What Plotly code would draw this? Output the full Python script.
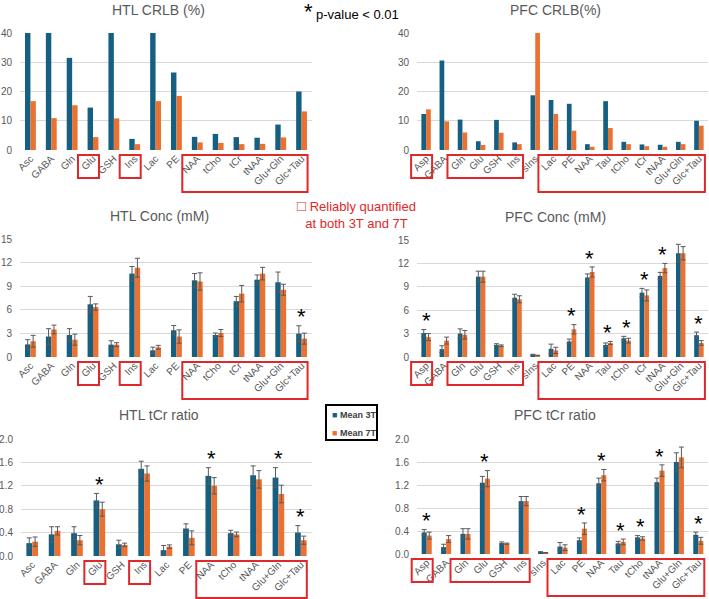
import plotly.graph_objects as go

W, H = 709, 599
BLUE = "#156082"
ORANGE = "#E97132"
GRAY = "#595959"
RED = "#E0282A"
FONT = "Liberation Sans"

# ---------------- data ----------------
htl_cats = ["Asc", "GABA", "Gln", "Glu", "GSH", "Ins", "Lac", "PE", "NAA", "tCho", "tCr", "tNAA", "Glu+Gln", "Glc+Tau"]
htl_ratio_cats = ["Asc", "GABA", "Gln", "Glu", "GSH", "Ins", "Lac", "PE", "NAA", "tCho", "tNAA", "Glu+Gln", "Glc+Tau"]
pfc_cats = ["Asp", "GABA", "Gln", "Glu", "GSH", "Ins", "sIns", "Lac", "PE", "NAA", "Tau", "tCho", "tCr", "tNAA", "Glu+Gln", "Glc+Tau"]
pfc_ratio_cats = ["Asp", "GABA", "Gln", "Glu", "GSH", "Ins", "sIns", "Lac", "PE", "NAA", "Tau", "tCho", "tNAA", "Glu+Gln", "Glc+Tau"]

htl_crlb_3t = [40, 40, 31.5, 14.5, 40, 3.8, 40, 26.5, 4.5, 5.5, 4.4, 4.2, 8.7, 20.0]
htl_crlb_7t = [16.7, 10.9, 15.3, 4.4, 10.8, 2.0, 16.7, 18.5, 2.6, 2.4, 2.0, 2.1, 4.3, 13.2]

pfc_crlb_3t = [12.3, 30.6, 10.4, 3.0, 10.3, 2.6, 18.7, 17.1, 15.8, 2.0, 16.7, 2.8, 1.9, 1.8, 2.8, 10.0]
pfc_crlb_7t = [13.9, 9.8, 6.0, 1.7, 5.9, 2.0, 40, 12.3, 6.6, 1.1, 7.5, 2.0, 1.3, 1.1, 2.0, 8.3]

htl_conc_3t = [1.6, 2.6, 2.8, 6.7, 1.57, 10.6, 0.85, 3.4, 9.75, 2.8, 7.1, 9.83, 9.5, 2.97]
htl_conc_3t_sd = [0.6, 1.0, 0.8, 1.0, 0.5, 0.9, 0.4, 0.6, 0.85, 0.25, 0.6, 0.6, 1.3, 1.0]
htl_conc_7t = [2.0, 3.5, 2.2, 6.35, 1.57, 11.35, 1.23, 2.6, 9.6, 3.05, 8.05, 10.6, 8.55, 2.33]
htl_conc_7t_sd = [0.75, 0.55, 0.7, 0.4, 0.25, 1.2, 0.25, 0.85, 1.1, 0.45, 1.05, 0.8, 0.7, 0.7]
htl_conc_sig = ["Glc+Tau"]

pfc_conc_3t = [3.07, 1.0, 3.0, 10.3, 1.55, 7.6, 0.3, 1.05, 2.0, 10.2, 1.55, 2.4, 8.25, 10.4, 13.3, 2.8]
pfc_conc_3t_sd = [0.45, 0.45, 0.6, 0.7, 0.15, 0.45, 0.05, 0.6, 0.3, 0.45, 0.25, 0.25, 0.55, 0.45, 1.15, 0.4]
pfc_conc_7t = [2.55, 2.1, 2.85, 10.3, 1.45, 7.4, 0.2, 0.85, 3.55, 10.9, 1.8, 2.1, 7.9, 11.4, 13.3, 1.8]
pfc_conc_7t_sd = [0.45, 0.45, 0.55, 0.7, 0.1, 0.45, 0.03, 0.4, 0.6, 0.65, 0.2, 0.3, 0.7, 0.6, 0.85, 0.3]
pfc_conc_sig = ["Asp", "PE", "NAA", "Tau", "tCho", "tCr", "tNAA", "Glc+Tau"]

htl_ratio_3t = [0.22, 0.37, 0.39, 0.95, 0.20, 1.49, 0.10, 0.47, 1.37, 0.39, 1.38, 1.34, 0.40]
htl_ratio_3t_sd = [0.09, 0.13, 0.11, 0.12, 0.07, 0.13, 0.08, 0.08, 0.14, 0.05, 0.16, 0.17, 0.12]
htl_ratio_7t = [0.245, 0.43, 0.27, 0.80, 0.19, 1.41, 0.16, 0.31, 1.20, 0.37, 1.31, 1.06, 0.27]
htl_ratio_7t_sd = [0.08, 0.07, 0.08, 0.12, 0.03, 0.13, 0.03, 0.12, 0.14, 0.04, 0.15, 0.15, 0.07]
htl_ratio_sig = ["Glu", "NAA", "Glu+Gln", "Glc+Tau"]

pfc_ratio_3t = [0.375, 0.12, 0.35, 1.24, 0.19, 0.92, 0.035, 0.13, 0.24, 1.23, 0.185, 0.29, 1.25, 1.60, 0.335]
pfc_ratio_3t_sd = [0.05, 0.05, 0.09, 0.11, 0.02, 0.08, 0.005, 0.07, 0.04, 0.09, 0.035, 0.03, 0.07, 0.16, 0.045]
pfc_ratio_7t = [0.32, 0.26, 0.35, 1.31, 0.18, 0.92, 0.02, 0.11, 0.44, 1.37, 0.21, 0.27, 1.45, 1.68, 0.23]
pfc_ratio_7t_sd = [0.06, 0.06, 0.09, 0.14, 0.01, 0.08, 0.005, 0.05, 0.10, 0.10, 0.05, 0.03, 0.10, 0.18, 0.06]
pfc_ratio_sig = ["Asp", "Glu", "PE", "NAA", "Tau", "tCho", "tNAA", "Glc+Tau"]

# boxes: (first category, last category, big?)
htl_boxes = [("Glu", "Glu", False), ("Ins", "Ins", False), ("NAA", "Glc+Tau", True)]
pfc_boxes = [("Asp", "Asp", False), ("Gln", "Ins", False), ("Lac", "Glc+Tau", True)]

panels = [
    dict(title="HTL CRLB (%)", cats=htl_cats, v3=htl_crlb_3t, v7=htl_crlb_7t, e3=None, e7=None, sig=[],
         yr=40, dt=10, fmt="d", px=(20, 312), py=(33, 150), tx=158, ty=10, boxes=htl_boxes),
    dict(title="PFC CRLB(%)", cats=pfc_cats, v3=pfc_crlb_3t, v7=pfc_crlb_7t, e3=None, e7=None, sig=[],
         yr=40, dt=10, fmt="d", px=(417, 708), py=(33, 150), tx=555, ty=10, boxes=pfc_boxes),
    dict(title="HTL Conc (mM)", cats=htl_cats, v3=htl_conc_3t, v7=htl_conc_7t, e3=htl_conc_3t_sd, e7=htl_conc_7t_sd,
         sig=htl_conc_sig, yr=15, dt=3, fmt="d", px=(20, 312), py=(239, 357), tx=159, ty=216, boxes=htl_boxes),
    dict(title="PFC Conc (mM)", cats=pfc_cats, v3=pfc_conc_3t, v7=pfc_conc_7t, e3=pfc_conc_3t_sd, e7=pfc_conc_7t_sd,
         sig=pfc_conc_sig, yr=15, dt=3, fmt="d", px=(417, 708), py=(240, 357), tx=555, ty=217, boxes=pfc_boxes),
    dict(title="HTL tCr ratio", cats=htl_ratio_cats, v3=htl_ratio_3t, v7=htl_ratio_7t, e3=htl_ratio_3t_sd, e7=htl_ratio_7t_sd,
         sig=htl_ratio_sig, yr=2.0, dt=0.4, fmt=".1f", px=(21, 312), py=(439, 556), tx=159, ty=415, boxes=htl_boxes),
    dict(title="PFC tCr ratio", cats=pfc_ratio_cats, v3=pfc_ratio_3t, v7=pfc_ratio_7t, e3=pfc_ratio_3t_sd, e7=pfc_ratio_7t_sd,
         sig=pfc_ratio_sig, yr=2.0, dt=0.4, fmt=".1f", px=(417, 708), py=(439, 554), tx=555, ty=415, boxes=pfc_boxes),
]


def fx(px):
    return px / W


def fy(py):
    return 1 - py / H


fig = go.Figure()
shapes = []
annotations = []
layout = {}

for k, p in enumerate(panels):
    n = k + 1
    xa = "x" if n == 1 else f"x{n}"
    ya = "y" if n == 1 else f"y{n}"
    xkey = "xaxis" if n == 1 else f"xaxis{n}"
    ykey = "yaxis" if n == 1 else f"yaxis{n}"
    for vals, errs, col, name in [(p["v3"], p["e3"], BLUE, "Mean 3T"), (p["v7"], p["e7"], ORANGE, "Mean 7T")]:
        tr = dict(x=p["cats"], y=vals, marker=dict(color=col, line=dict(width=0)), name=name,
                  xaxis=xa, yaxis=ya, showlegend=False, hoverinfo="x+y")
        if errs is not None:
            tr["error_y"] = dict(type="data", array=errs, visible=True, color=GRAY, thickness=1, width=2.5)
        fig.add_trace(go.Bar(**tr))
    layout[xkey] = dict(domain=[fx(p["px"][0]), fx(p["px"][1])], anchor=ya, type="category",
                        categoryorder="array", categoryarray=p["cats"], automargin=False,
                        tickangle=-45, tickfont=dict(size=10, color=GRAY, family=FONT),
                        showgrid=False, showline=False, zeroline=False, ticks="", fixedrange=True)
    layout[ykey] = dict(domain=[fy(p["py"][1]), fy(p["py"][0])], anchor=xa, range=[0, p["yr"]],
                        dtick=p["dt"], tick0=0, tickformat=p["fmt"], showgrid=True, gridcolor="#D9D9D9",
                        gridwidth=1, zeroline=False, showline=False, ticks="", ticklabelstandoff=7,
                        automargin=False, tickfont=dict(size=10, color=GRAY, family=FONT), fixedrange=True)
    # title
    annotations.append(dict(text=p["title"], x=fx(p["tx"]), y=fy(p["ty"]), xref="paper", yref="paper",
                            xanchor="center", yanchor="middle", showarrow=False,
                            font=dict(size=14, color=GRAY, family=FONT)))
    # significance stars
    for c in p["sig"]:
        i = p["cats"].index(c)
        top = max(p["v3"][i] + p["e3"][i], p["v7"][i] + p["e7"][i])
        annotations.append(dict(text="*", x=c, y=top + 0.11 * p["yr"], xref=xa, yref=ya,
                                xanchor="center", yanchor="middle", yshift=-4, showarrow=False,
                                font=dict(size=22, color="black", family=FONT)))
    # red boxes around reliably quantified labels
    n_c = len(p["cats"])
    cw = (p["px"][1] - p["px"][0]) / n_c
    for c0, c1, big in p["boxes"]:
        i0 = p["cats"].index(c0)
        i1 = p["cats"].index(c1)
        x0 = p["px"][0] + (i0 + 0.5) * cw - 15
        x1 = p["px"][0] + (i1 + 0.5) * cw + 6
        y0 = p["py"][1] + 5
        y1 = p["py"][1] + (42 if big else 28)
        shapes.append(dict(type="rect", xref="paper", yref="paper", x0=fx(x0), x1=fx(x1),
                           y0=fy(y1), y1=fy(y0), line=dict(color=RED, width=2)))

# p-value note
annotations.append(dict(text="*", x=fx(308), y=fy(11), xref="paper", yref="paper", xanchor="center",
                        yanchor="middle", showarrow=False, font=dict(size=22, color="black", family=FONT)))
annotations.append(dict(text="p-value < 0.01", x=fx(314), y=fy(14), xref="paper", yref="paper", xanchor="left",
                        yanchor="middle", showarrow=False, font=dict(size=13, color="black", family=FONT)))
# reliably quantified note
annotations.append(dict(text="<span style='font-size:15px'>□</span> Reliably quantified<br>at both 3T and 7T",
                        x=fx(356), y=fy(214), xref="paper",
                        yref="paper", xanchor="center", yanchor="middle", align="center", showarrow=False,
                        font=dict(size=13, color=RED, family=FONT)))
# legend (drawn)
shapes.append(dict(type="rect", xref="paper", yref="paper", x0=fx(326), x1=fx(377), y0=fy(440), y1=fy(405),
                   line=dict(color="black", width=2)))
for lab, col, yy in [("Mean 3T", BLUE, 415), ("Mean 7T", ORANGE, 433)]:
    annotations.append(dict(text=f"<span style='color:{col}'>■</span> <b>{lab}</b>", x=fx(330), y=fy(yy),
                            xref="paper", yref="paper", xanchor="left", yanchor="middle", showarrow=False,
                            font=dict(size=9, color="#404040", family=FONT)))

fig.update_layout(width=W, height=H, margin=dict(l=0, r=0, t=0, b=0), paper_bgcolor="white",
                  plot_bgcolor="white", barmode="group", bargap=0.48, bargroupgap=0.0,
                  shapes=shapes, annotations=annotations, font=dict(family=FONT), **layout)

fig.write_html("out.html")
